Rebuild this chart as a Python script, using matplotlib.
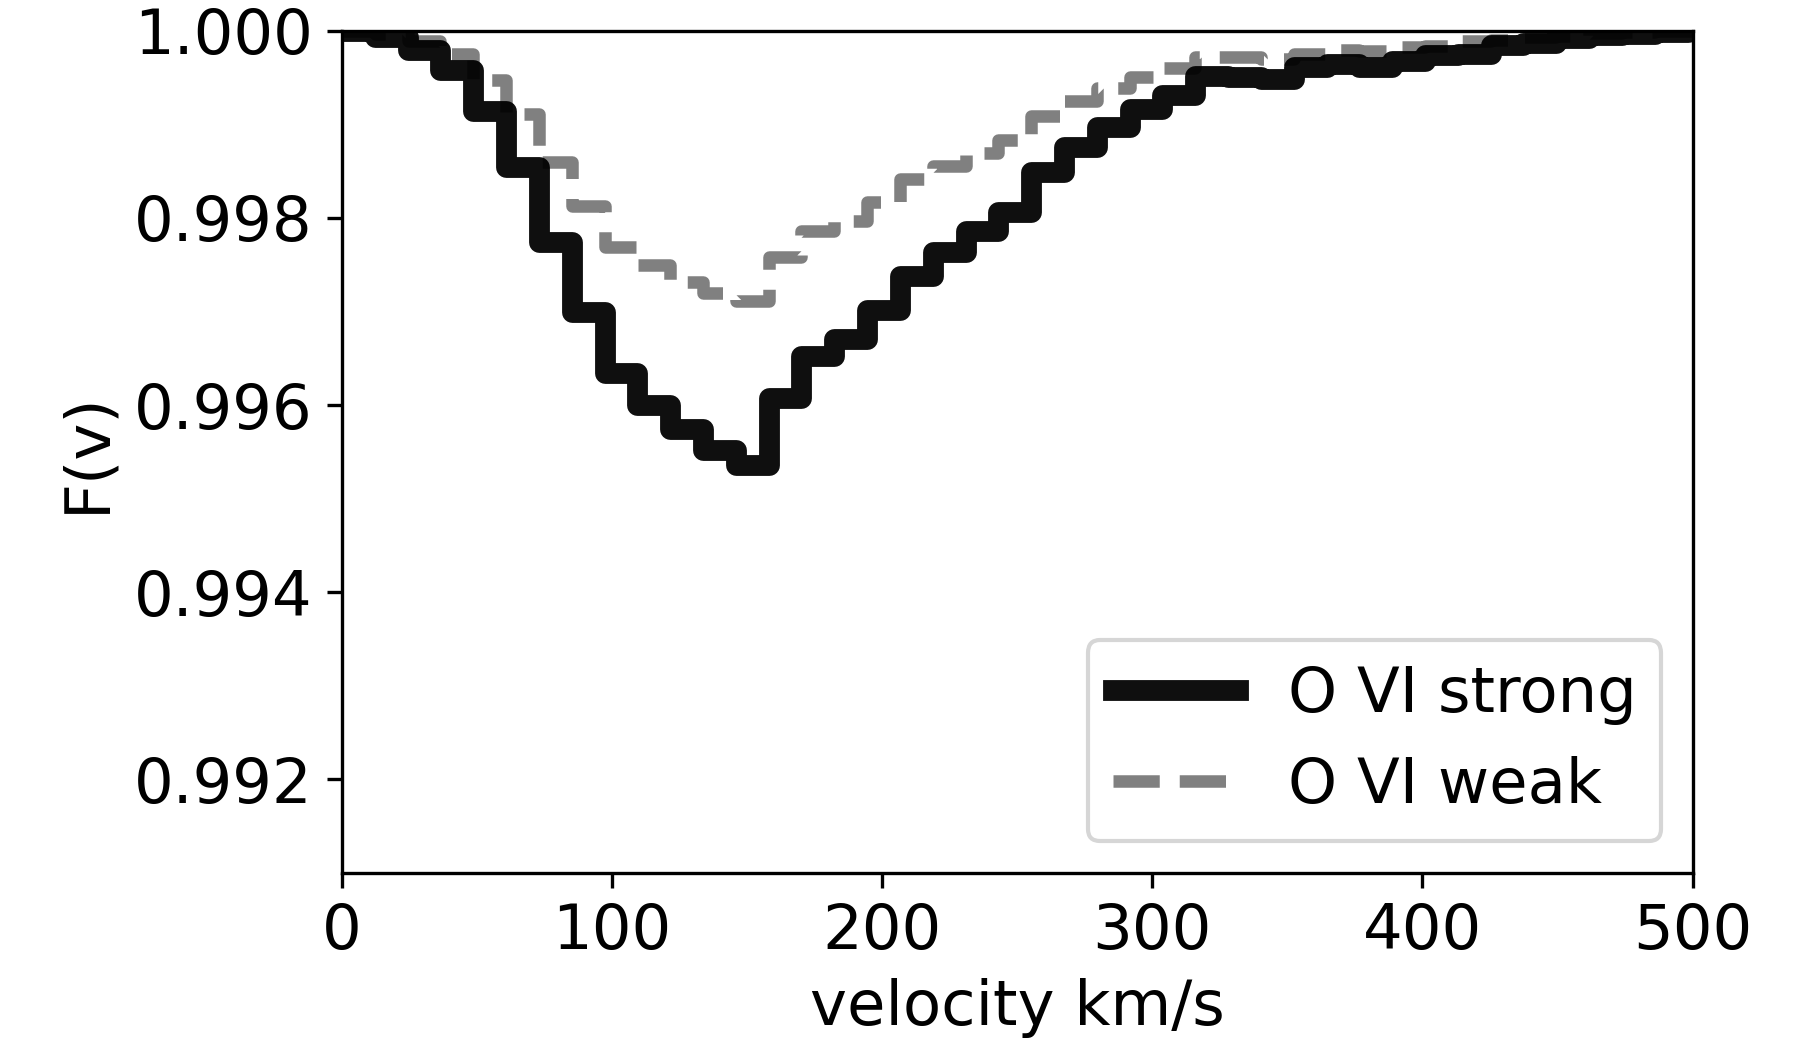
import matplotlib
matplotlib.use("Agg")
import matplotlib.pyplot as plt
from matplotlib.ticker import FormatStrFormatter
import numpy as np

# left edges of the velocity pixels (km/s), ~12.15 km/s each
VELOCITY = [0.0, 12.15, 24.3, 36.45, 48.6, 60.75, 72.9, 85.05, 97.2, 109.35,
            121.5, 133.65, 145.8, 157.95, 170.1, 182.25, 194.4, 206.55, 218.7, 230.85,
            243.0, 255.15, 267.3, 279.45, 291.6, 303.75, 315.9, 328.05, 340.2, 352.35,
            364.5, 376.65, 388.8, 400.95, 413.1, 425.25, 437.4, 449.55, 461.7, 473.85,
            486.0, 498.15]

FLUX_STRONG = [1.00000, 0.99994, 0.99980, 0.99958, 0.99914, 0.99855, 0.99774, 0.99699,
               0.99634, 0.99600, 0.99574, 0.99552, 0.99536, 0.99607, 0.99652, 0.99671,
               0.99702, 0.99738, 0.99764, 0.99786, 0.99806, 0.99849, 0.99876, 0.99897,
               0.99917, 0.99931, 0.99952, 0.99951, 0.99949, 0.99962, 0.99965, 0.99961,
               0.99968, 0.99974, 0.99975, 0.99985, 0.99987, 0.99992, 0.99996, 0.99997,
               0.99999, 1.00000]

FLUX_WEAK = [1.00000, 0.99997, 0.99989, 0.99975, 0.99948, 0.99911, 0.99860, 0.99813,
             0.99769, 0.99750, 0.99732, 0.99720, 0.99711, 0.99758, 0.99786, 0.99797,
             0.99817, 0.99842, 0.99856, 0.99870, 0.99883, 0.99909, 0.99925, 0.99939,
             0.99951, 0.99960, 0.99972, 0.99972, 0.99970, 0.99975, 0.99980, 0.99979,
             0.99983, 0.99984, 0.99989, 0.99990, 0.99994, 0.99995, 0.99998, 0.99999,
             1.00000, 1.00000]

Y_TICKS = [0.992, 0.994, 0.996, 0.998, 1.000]
X_TICKS = [0, 100, 200, 300, 400, 500]


def step_xy(v, f):
    v = np.asarray(v, dtype=float)
    f = np.asarray(f, dtype=float)
    dv = v[1] - v[0]
    return np.append(v, v[-1] + dv), np.append(f, f[-1])


def main() -> None:
    plt.rcParams["font.size"] = 15
    fig, ax = plt.subplots(figsize=(6, 3.5), dpi=300)
    fig.subplots_adjust(left=0.19, right=0.9403, top=0.9705, bottom=0.169)

    x, y = step_xy(VELOCITY, FLUX_STRONG)
    ax.step(x, y, where="post", color="black", alpha=0.94, lw=5,
            label="O VI strong", zorder=3)
    x, y = step_xy(VELOCITY, FLUX_WEAK)
    ax.step(x, y, where="post", color="gray", lw=3, ls="--",
            label="O VI weak", zorder=2)

    ax.set_xlim(0, 500)
    ax.set_ylim(0.991, 1.000)
    ax.set_xticks(X_TICKS)
    ax.set_yticks(Y_TICKS)
    ax.yaxis.set_major_formatter(FormatStrFormatter("%.3f"))
    ax.set_xlabel("velocity km/s")
    ax.set_ylabel("F(v)")
    ax.legend(loc="lower right")

    fig.savefig("out.png", dpi=300)
    plt.close(fig)


if __name__ == "__main__":
    main()
